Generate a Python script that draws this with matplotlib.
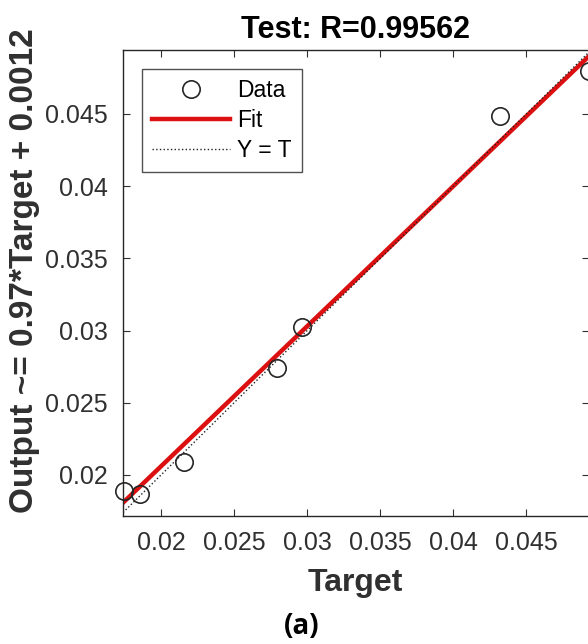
import numpy as np
import matplotlib.pyplot as plt

# test-set targets and network outputs
target = [0.01747, 0.01856, 0.02158, 0.02795, 0.02966, 0.04322, 0.04925]
output = [0.01889, 0.01868, 0.02090, 0.02742, 0.03028, 0.04486, 0.04798]
fit_slope = 0.97
fit_offset = 0.0012
r_value = 0.99562
xticks = [0.02, 0.025, 0.03, 0.035, 0.04, 0.045]
yticks = [0.02, 0.025, 0.03, 0.035, 0.04, 0.045]

plt.rcParams['font.family'] = ['Liberation Sans', 'DejaVu Sans']

fig = plt.figure(figsize=(5.88, 6.44), dpi=100)
ax = fig.add_axes([123 / 588, 1 - 516 / 644, 465.5 / 588, 466 / 644])

lo, hi = 0.01740, 0.04925
line_x = np.array([lo, hi])

ax.plot(target, output, 'o', mfc='none', mec='#262626', ms=12.5, mew=1.2,
        label='Data', clip_on=False, zorder=4)
ax.plot(line_x, fit_slope * line_x + fit_offset, color='#dc1010', lw=3.2,
        label='Fit', zorder=2)
ax.plot(line_x, line_x, ':', color='#222222', lw=1.0, label='Y = T', zorder=3)

ax.set_xlim(lo, hi)
ax.set_ylim(0.01716, 0.04943)
ax.set_xticks(xticks)
ax.set_yticks(yticks)
ax.set_xticklabels([f'{v:g}' for v in xticks])
ax.set_yticklabels([f'{v:g}' for v in yticks])
ax.tick_params(direction='in', top=True, right=True, length=5, width=0.8,
               labelsize=18, colors='#303030', pad=11)
for s in ax.spines.values():
    s.set_linewidth(1.0)
    s.set_color('#262626')

ax.set_title(f'Test: R={r_value}', fontsize=22, fontweight='bold', pad=9)
ax.set_xlabel('Target', fontsize=23, fontweight='bold', color='#303030', labelpad=9)
ax.set_ylabel(f'Output ~= {fit_slope}*Target + {fit_offset}', fontsize=24,
              fontweight='bold', color='#303030')
ax.yaxis.set_label_coords(-0.178, 0.526)

leg = ax.legend(loc='upper left', bbox_to_anchor=(0.04, 0.96), fontsize=16.5,
                frameon=True, fancybox=False, edgecolor='#262626',
                handlelength=3.4, handletextpad=0.3, borderpad=0.45,
                labelspacing=0.3, borderaxespad=0)
leg.get_frame().set_linewidth(1.0)

fig.text(302 / 588, 1 - 627 / 644, '(a)', ha='center', va='center', fontsize=20,
         fontweight='bold', family=['Open Sans', 'DejaVu Sans'])

fig.savefig('out.png', dpi=100)
